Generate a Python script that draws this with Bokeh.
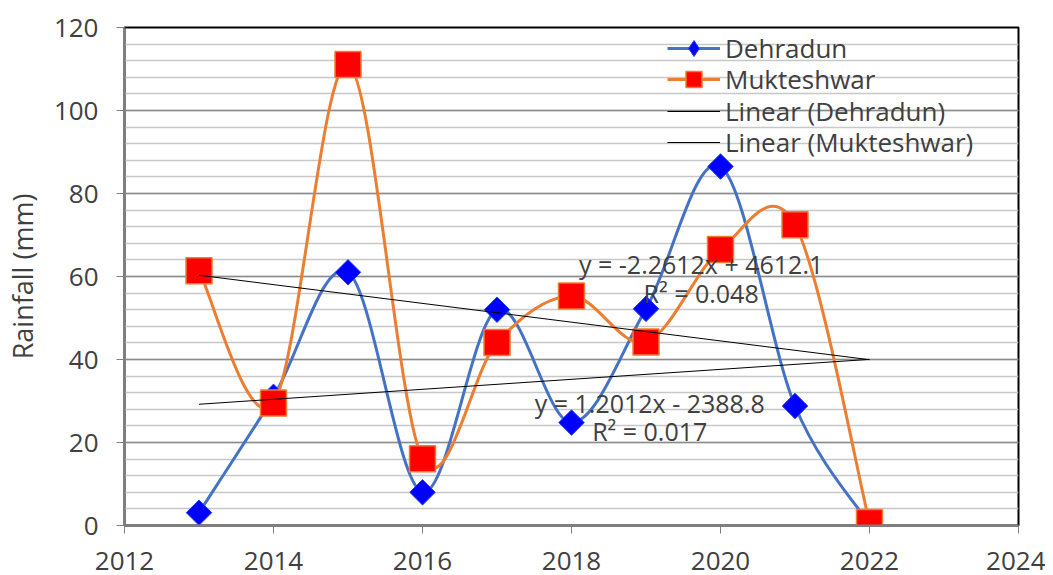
import math
from bokeh.plotting import figure
from bokeh.models import Range1d, FixedTicker, Legend, LegendItem, ColumnDataSource
from bokeh.core.properties import value
from bokeh.embed import file_html
from bokeh.resources import INLINE

# ---------------- data ----------------
years = [2013, 2014, 2015, 2016, 2017, 2018, 2019, 2020, 2021, 2022]
dehradun = [3.1, 31.0, 61.0, 8.0, 52.0, 24.8, 52.2, 86.5, 28.8, 0.3]
mukteshwar = [61.4, 29.5, 111.1, 16.1, 44.1, 55.3, 44.2, 66.5, 72.5, 0.7]

series_names = ["Dehradun", "Mukteshwar"]
trend_slope = [1.2012, -2.2612]
trend_intercept = [-2388.8, 4612.1]
trend_r2 = ["0.017", "0.048"]

x_ticks = [2012, 2014, 2016, 2018, 2020, 2022, 2024]
y_ticks = [0, 20, 40, 60, 80, 100, 120]
y_minor = [v for v in range(0, 121, 4)]

FONT = "Open Sans"
TXT = "#404040"

p = figure(width=1045, height=575, output_backend="svg", toolbar_location=None,
           x_range=Range1d(2012, 2024), y_range=Range1d(0, 120),
           min_border_left=122, min_border_right=27, min_border_top=27,
           min_border_bottom=50)
p.background_fill_color = "white"
p.outline_line_color = "black"
p.outline_line_width = 2

# axes
p.xaxis.ticker = FixedTicker(ticks=x_ticks)
p.yaxis.ticker = FixedTicker(ticks=y_ticks, minor_ticks=y_minor)
for ax in (p.xaxis[0], p.yaxis[0]):
    ax.axis_line_color = "#7f7f7f"
    ax.axis_line_width = 2
    ax.major_tick_line_color = "#7f7f7f"
    ax.major_tick_line_width = 1
    ax.major_tick_out = 8
    ax.major_tick_in = 0
    ax.minor_tick_line_color = None
    ax.major_label_text_font = FONT
    ax.major_label_text_font_size = "26px"
    ax.major_label_text_color = TXT
p.xaxis.major_label_standoff = 18
p.yaxis.major_label_standoff = 18
p.yaxis.axis_label = "Rainfall (mm)"
p.yaxis.axis_label_text_font = FONT
p.yaxis.axis_label_text_font_size = "27px"
p.yaxis.axis_label_text_font_style = "normal"
p.yaxis.axis_label_text_color = TXT
p.yaxis.axis_label_standoff = 10

p.xgrid.grid_line_color = None
p.ygrid.grid_line_color = "#8c8c8c"
p.ygrid.grid_line_width = 1.5
p.ygrid.minor_grid_line_color = "#c8c8c8"
p.ygrid.minor_grid_line_width = 1.5


def smooth_segments(xs, ys):
    """Catmull-Rom (Excel-like) smoothing as cubic Bezier segments."""
    n = len(xs)
    d = dict(x0=[], y0=[], x1=[], y1=[], cx0=[], cy0=[], cx1=[], cy1=[])
    for i in range(n - 1):
        a = i - 1 if i > 0 else i
        b = i + 2 if i + 2 < n else i + 1
        d["x0"].append(xs[i]); d["y0"].append(ys[i])
        d["x1"].append(xs[i + 1]); d["y1"].append(ys[i + 1])
        d["cx0"].append(xs[i] + (xs[i + 1] - xs[a]) / 6.0)
        d["cy0"].append(ys[i] + (ys[i + 1] - ys[a]) / 6.0)
        d["cx1"].append(xs[i + 1] - (xs[b] - xs[i]) / 6.0)
        d["cy1"].append(ys[i + 1] - (ys[b] - ys[i]) / 6.0)
    return ColumnDataSource(d)


items = []
# Dehradun
p.bezier(x0="x0", y0="y0", x1="x1", y1="y1", cx0="cx0", cy0="cy0", cx1="cx1", cy1="cy1",
         source=smooth_segments(years, dehradun), line_color="#4472C4", line_width=3)
# single-point line: draws nothing in the plot, only serves as legend glyph
leg_d = p.line(years[:1], dehradun[:1], line_color="#4472C4", line_width=3)
leg_dm = p.scatter(years[:1], dehradun[:1], marker="diamond", size=16,
                   fill_color="#0000FF", line_color="#1a3cff", line_width=1, visible=False)
p.scatter(years, dehradun, marker="square", angle=math.pi / 4, size=18,
          fill_color="#0000FF", line_color="#1a3cff", line_width=1)
items.append(LegendItem(label=series_names[0], renderers=[leg_d, leg_dm]))

# Mukteshwar
p.bezier(x0="x0", y0="y0", x1="x1", y1="y1", cx0="cx0", cy0="cy0", cx1="cx1", cy1="cy1",
         source=smooth_segments(years, mukteshwar), line_color="#ED7D31", line_width=3)
leg_m = p.line(years[:1], mukteshwar[:1], line_color="#ED7D31", line_width=3)
mk_m = p.scatter(years, mukteshwar, marker="square", size=26,
                 fill_color="#FF0000", line_color="#ED7D31", line_width=1.5)
items.append(LegendItem(label=series_names[1], renderers=[leg_m, mk_m]))

# linear trendlines
for k in range(2):
    xs = [years[0], years[-1]]
    ys = [trend_slope[k] * x + trend_intercept[k] for x in xs]
    r = p.line(xs, ys, line_color="black", line_width=1)
    items.append(LegendItem(label="Linear (%s)" % series_names[k], renderers=[r]))

# trendline equation labels
label_pos = [(2019.05, 29.4, 22.7), (2019.74, 63.1, 56.1)]
for k in range(2):
    lx, ly1, ly2 = label_pos[k]
    b = trend_intercept[k]
    eq = "y = %sx %s %s" % (trend_slope[k], "+" if b >= 0 else "-", abs(b))
    p.text(x=[lx], y=[ly1], text=[eq], text_align="center", text_baseline="middle",
           text_font=value(FONT), text_font_size="25px", text_color=TXT)
    p.text(x=[lx], y=[ly2], text=["R² = " + trend_r2[k]], text_align="center",
           text_baseline="middle", text_font=value(FONT), text_font_size="25px",
           text_color=TXT)

# one legend per row, so the row pitch matches the reference
row_offsets = [457, 426, 394, 363]
for item, vy in zip(items, row_offsets):
    lg = Legend(items=[item], location=(543, vy), orientation="vertical")
    lg.background_fill_alpha = 0
    lg.border_line_color = None
    lg.padding = 0
    lg.margin = 0
    lg.spacing = 0
    lg.glyph_width = 53
    lg.glyph_height = 40
    lg.label_height = 31
    lg.label_standoff = 5
    lg.label_text_font = FONT
    lg.label_text_font_size = "26px"
    lg.label_text_color = TXT
    p.add_layout(lg)

open("out.html", "w").write(file_html(p, INLINE))
